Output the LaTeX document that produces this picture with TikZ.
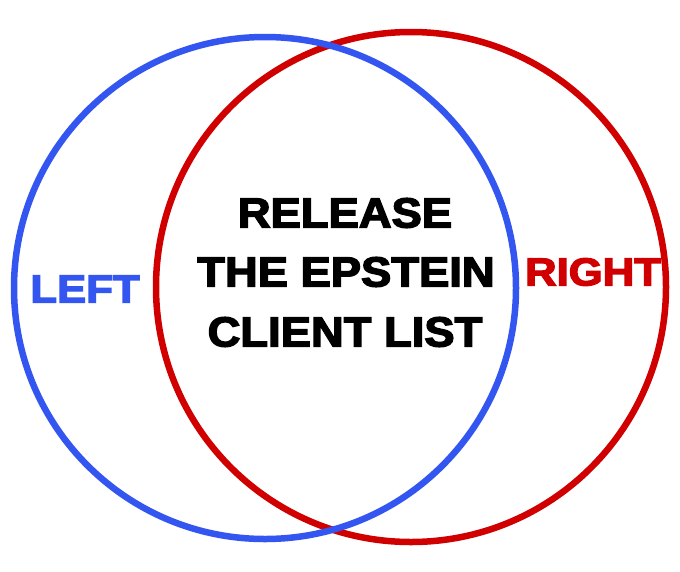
\documentclass[tikz,border=0pt]{standalone}
\usepackage{fontspec}
\newfontfamily\heavy{Liberation Sans}[BoldFeatures={FakeBold=3.2}]
\definecolor{leftblue}{RGB}{52,86,240}
\definecolor{rightred}{RGB}{208,0,0}
\tikzset{
  ring/.style={line width=6.5pt},
  bigtext/.style={font=\heavy\bfseries\fontsize{42}{42}\selectfont, xscale=1.08, inner sep=0pt, anchor=center},
  sidetext/.style={font=\heavy\bfseries\fontsize{39}{39}\selectfont, xscale=1.12, inner sep=0pt, anchor=center}
}
\begin{document}
\begin{tikzpicture}[x=1pt,y=-1pt]
\useasboundingbox[fill=white] (0,0) rectangle (680,571);
\draw[ring, rightred] (411,287) circle[radius=255] coordinate (rc);
\draw[ring, leftblue] (265,288) circle[radius=251] coordinate (lc);
\node[bigtext] (l1) at (345,213) {RELEASE};
\node[bigtext] (l2) at (346,272) {THE EPSTEIN};
\node[bigtext] (l3) at (345,332) {CLIENT LIST};
\node[sidetext, text=leftblue] (left) at (85,289) {LEFT};
\node[sidetext, text=rightred] (right) at (593,272) {RIGHT};
\end{tikzpicture}
\end{document}
